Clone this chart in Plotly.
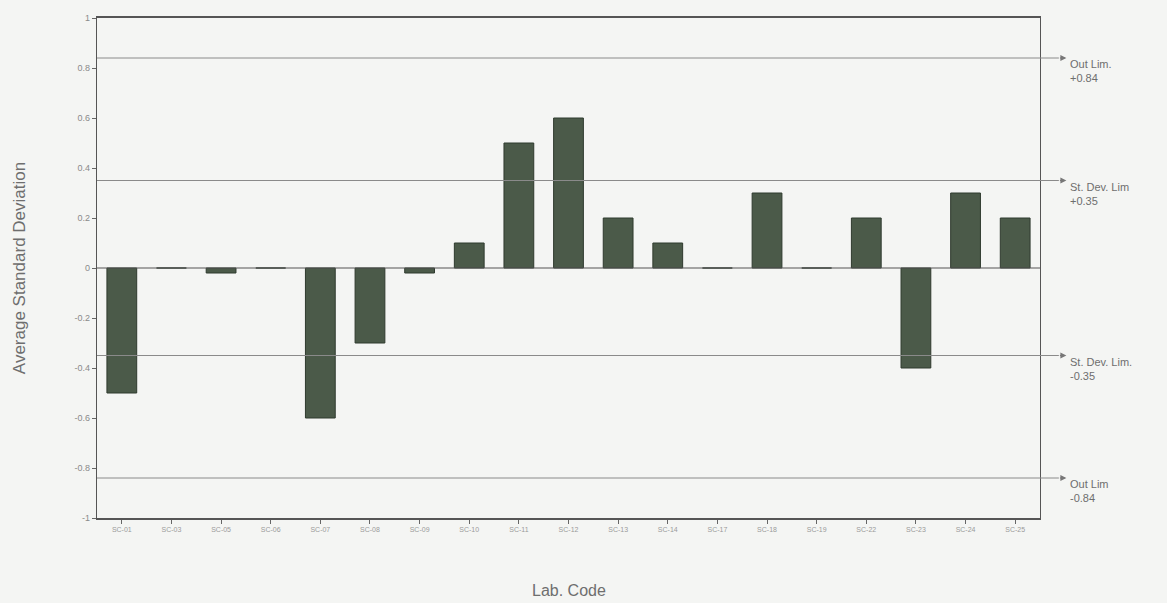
import plotly.graph_objects as go

lab_codes = ["SC-01", "SC-03", "SC-05", "SC-06", "SC-07", "SC-08", "SC-09", "SC-10", "SC-11", "SC-12",
             "SC-13", "SC-14", "SC-17", "SC-18", "SC-19", "SC-22", "SC-23", "SC-24", "SC-25"]
avg_std_dev = [-0.50, 0.0, -0.02, 0.0, -0.60, -0.30, -0.02, 0.10, 0.50, 0.60,
               0.20, 0.10, 0.0, 0.30, 0.0, 0.20, -0.40, 0.30, 0.20]
limit_values = [0.84, 0.35, -0.35, -0.84]
limit_names = ["Out Lim.", "St. Dev. Lim", "St. Dev. Lim.", "Out Lim"]
limit_texts = ["+0.84", "+0.35", "-0.35", "-0.84"]

bg = "#f4f5f3"
grey = "#6e6e6e"

fig = go.Figure()
fig.add_trace(go.Bar(
    x=lab_codes, y=avg_std_dev, width=0.6,
    marker=dict(color="#4b5a49", line=dict(color="#2f3a2e", width=1)),
))

shapes = []
annotations = []
for v, name, txt in zip(limit_values, limit_names, limit_texts):
    shapes.append(dict(type="line", xref="paper", yref="y", x0=0, x1=1.0, y0=v, y1=v,
                       line=dict(color="#8a8a8a", width=1)))
    shapes.append(dict(type="line", xref="paper", yref="y", x0=1.0, x1=1.02, y0=v, y1=v,
                       line=dict(color="#8a8a8a", width=1)))
    annotations.append(dict(xref="paper", yref="y", x=1.028, y=v, text="", showarrow=True,
                            ax=-8, ay=0, arrowhead=2, arrowsize=1, arrowwidth=1.2,
                            arrowcolor="#777777"))
    annotations.append(dict(xref="paper", yref="y", x=1.03, y=v, yshift=2, text=name + "<br>" + txt,
                            showarrow=False, xanchor="left", yanchor="top", align="left",
                            font=dict(family="Liberation Sans, Arial", size=11, color=grey)))

annotations.append(dict(xref="paper", yref="paper", x=0.5, y=0, yshift=-72, text="Lab. Code",
                        showarrow=False, xanchor="center", yanchor="middle",
                        font=dict(family="Liberation Sans, Arial", size=16, color=grey)))

shapes.append(dict(type="line", xref="paper", yref="y", x0=0, x1=1, y0=0, y1=0,
                   line=dict(color="#555555", width=1.2)))

fig.update_layout(
    width=1167, height=603,
    paper_bgcolor=bg, plot_bgcolor=bg,
    margin=dict(l=97, r=127, t=18, b=85),
    showlegend=False,
    shapes=shapes, annotations=annotations,
    bargap=0.4,
    font=dict(family="Liberation Sans, Arial", color=grey),
    xaxis=dict(
        tickfont=dict(size=7, color="#9a9a9a"), ticks="outside", ticklen=4,
        tickcolor="#666", showline=True, linecolor="#555", linewidth=1.5, mirror=True,
        showgrid=False, tickangle=0, automargin=False,
    ),
    yaxis=dict(
        title=dict(text="Average Standard Deviation", font=dict(size=17, color=grey), standoff=44),
        range=[-1, 1], tickvals=[-1, -0.8, -0.6, -0.4, -0.2, 0, 0.2, 0.4, 0.6, 0.8, 1],
        ticktext=["-1", "-0.8", "-0.6", "-0.4", "-0.2", "0", "0.2", "0.4", "0.6", "0.8", "1"],
        tickfont=dict(size=9, color="#8a8a8a"), ticks="outside", ticklen=4, tickcolor="#666",
        showline=True, linecolor="#555", linewidth=1.2, mirror=True,
        showgrid=False, zeroline=False,
    ),
)

fig.write_html("out.html", config={"displayModeBar": False},
               post_script="document.body.style.margin='0';document.body.style.overflow='hidden';")
